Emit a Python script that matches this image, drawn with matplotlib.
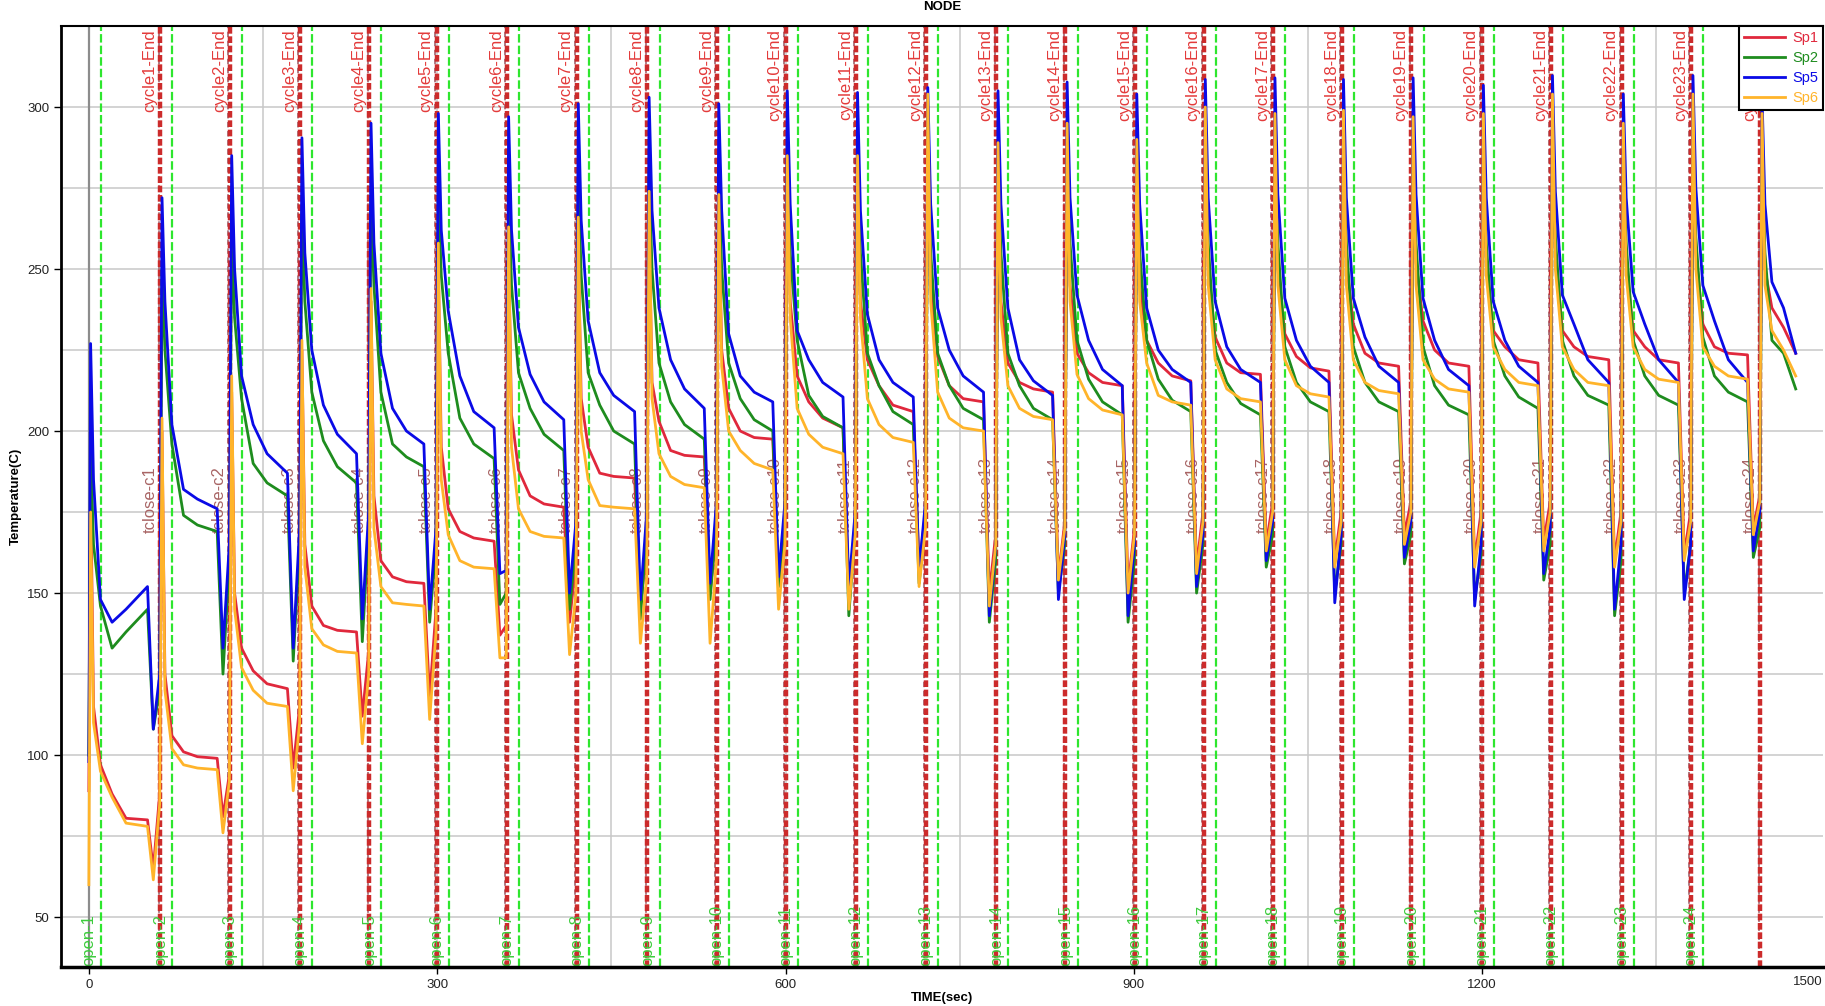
import numpy as np
import matplotlib.pyplot as plt
from matplotlib.ticker import MultipleLocator

plt.rcParams['font.family'] = ['Liberation Sans', 'DejaVu Sans']

# time (sec) at which each cycle ends
cycle_end = [61.5, 121.5, 182, 241.5, 299.5, 360, 420, 481, 541, 600, 660.5, 721,
             781.5, 841, 901, 960, 1020, 1079, 1139, 1199.5, 1259, 1320, 1380, 1439.5]
t_stop = 1470

series_names = ['Sp1', 'Sp2', 'Sp5', 'Sp6']
series_colors = ['#e0283c', '#1e8c1e', '#0a0ae6', '#ffb42a']
start_vals = [89, 100, 98, 60]

# per cycle: peak, 4s later, 10s later, 20s later, plateau before tclose, dip, value at cycle end
sp1 = [(185, 115, 97, 88, 80, 65, 88), (200, 125, 106, 101, 99, 81, 94),
       (212, 150, 133, 126, 120.5, 96, 115), (225, 165, 146, 140, 138, 112, 132),
       (240, 180, 160, 155, 153, 118, 145), (250, 195, 176, 169, 166, 137, 140),
       (255, 205, 188, 180, 176.5, 141, 160), (258, 210, 195, 187, 185.5, 146, 165),
       (266, 215, 203, 194, 192, 150, 170), (270, 225, 207, 200, 197.5, 152, 172),
       (283, 240, 217, 209, 201, 150, 172), (280, 240, 222, 214, 206, 158, 175),
       (300, 245, 223, 214, 209, 150, 168), (285, 240, 221, 215, 212, 155, 172),
       (292, 245, 224, 218, 214, 152, 170), (286, 245, 228, 221, 215.5, 158, 175),
       (296, 250, 229, 221, 217.5, 165, 178), (294, 250, 230, 223, 218.5, 160, 175),
       (295, 252, 233, 224, 220, 168, 178), (293, 252, 234, 225, 220, 160, 175),
       (294, 252, 231, 226, 221, 166, 178), (300, 255, 231, 226, 222, 160, 175),
       (292, 252, 231, 226, 221, 162, 175), (300, 255, 233, 226, 223.5, 170, 180)]
sp2 = [(195, 165, 146, 133, 145, 108, 120), (250, 225, 196, 174, 169, 125, 160),
       (260, 235, 210, 190, 180, 129, 165), (268, 240, 212, 197, 184, 135, 170),
       (272, 245, 212, 196, 189, 141, 165), (274, 248, 224, 204, 191.5, 146.5, 150),
       (275, 245, 218, 207, 194, 145, 165), (278, 248, 218, 208, 196, 142, 170),
       (280, 250, 221, 209, 197.5, 148, 172), (280, 250, 221, 210, 200, 152, 175),
       (282, 255, 228, 211, 201, 143, 170), (282, 255, 224, 214, 202, 153, 172),
       (284, 255, 224, 214, 203.5, 141, 160), (284, 255, 224, 214, 203.5, 150, 165),
       (285, 258, 228, 216, 205, 141, 160), (283, 255, 228, 216, 206, 150, 165),
       (285, 258, 225, 215, 205, 158, 168), (286, 258, 226, 215, 206, 150, 165),
       (285, 258, 226, 215, 206, 159, 168), (286, 258, 226, 214, 205, 148, 162),
       (284, 258, 228, 217, 207, 154, 165), (286, 260, 228, 217, 208, 143, 160),
       (283, 258, 228, 217, 208, 150, 165), (287, 260, 229, 217, 209, 161, 170)]
sp5 = [(227, 185, 148, 141, 152, 108, 125), (272, 240, 202, 182, 176, 133, 165),
       (285, 250, 217, 202, 187, 133, 170), (290.5, 255, 225, 208, 193, 142, 175),
       (295, 258, 224, 207, 196, 145, 170), (298, 262, 237, 217, 201, 156, 157),
       (297, 262, 232, 217.5, 203.5, 150, 172), (301, 265, 234, 218, 206, 148, 175),
       (303, 268, 238, 222, 207, 153, 178), (301, 268, 230, 217, 209, 155, 178),
       (305, 270, 231, 222, 210.5, 152, 175), (304.5, 268, 236, 222, 210.5, 157, 178),
       (306, 270, 238, 225, 212, 143, 165), (305, 270, 238, 222, 211, 148, 168),
       (307.7, 272, 242, 228, 214, 143, 165), (304, 270, 238, 225, 215, 152, 168),
       (308.5, 272, 240, 226, 215, 160, 172), (309, 273, 241, 228, 215, 147, 168),
       (308.5, 272, 241, 229, 215, 161, 172), (309, 273, 241, 228, 214, 146, 165),
       (306.7, 272, 240, 228, 215, 156, 170), (309.7, 274, 242, 233, 215, 145, 165),
       (304, 272, 243, 233, 215, 148, 165), (309.7, 275, 245, 234, 215, 163, 175)]
sp6 = [(175, 110, 95, 87, 78, 61.5, 85), (204, 120, 102, 97, 95.5, 76, 92),
       (217, 145, 127, 120, 115, 89, 110), (228, 158, 139, 134, 131.5, 103.5, 125),
       (244, 170, 152, 147, 146, 111, 138), (258, 185, 168, 160, 157.5, 130, 130),
       (263, 195, 176, 169, 167, 131, 150), (266, 200, 185, 177, 176, 134.5, 155),
       (274, 210, 193, 186, 182.5, 134.5, 160), (273, 220, 200, 194, 188, 145, 165),
       (285, 235, 207, 199, 193, 145, 168), (285, 235, 210, 202, 196.5, 152, 170),
       (304, 240, 212, 204, 200, 146, 165), (289, 235, 214, 207, 203.5, 154, 170),
       (295, 240, 217.5, 210, 205, 150, 168), (290, 240, 221, 211, 208, 156, 172),
       (300, 245, 222, 213, 209, 163, 175), (298, 245, 222, 214, 210.5, 158, 172),
       (299, 245, 222, 215, 211.5, 165, 175), (297, 245, 222, 216, 212, 158, 172),
       (298, 248, 226, 219, 214, 163, 175), (304, 250, 226, 219, 214, 158, 172),
       (295, 248, 226, 219, 215, 160, 172), (304, 250, 226, 220, 216, 168, 178)]

# value 32s into each cycle
sp1_mid = [80.5, 99.5, 122, 138.5, 153.5, 167, 177.5, 186, 192.5, 198, 204, 208,
           210, 213, 215, 217, 218, 219.5, 221, 221, 222, 223, 222, 224]
sp2_mid = [138, 171, 184, 189, 192, 196, 199, 200, 202, 203.5, 204.5, 206,
           207, 207, 209, 209.5, 208.5, 209, 209, 208, 210.5, 211, 211, 212]
sp5_mid = [145, 179, 193, 199, 200, 206, 209, 211, 213, 212, 215, 215,
           217, 215.5, 219, 219, 219, 220, 220, 219, 220, 222, 222, 222]
sp6_mid = [79, 96, 116, 132, 146.5, 158, 167.5, 176.5, 183.5, 190, 195, 198,
           201, 204.5, 206.5, 209, 210, 211.5, 212.5, 213, 215, 215, 216, 217]

# last, unfinished cycle: peak, +4s, +10s, +20s, value at t_stop
tails = [(296, 250, 238, 232, 224), (282, 255, 228, 224, 213),
         (303, 270, 246, 238, 224), (298, 245, 231, 225, 217)]


def build_curve(start_val, rows, mids, tail):
    seg_start = [0.0] + cycle_end[:-1]
    t = [0.0]
    v = [start_val]
    for s, e, row, mid in zip(seg_start, cycle_end, rows, mids):
        pk, v4, k10, q20, plat, dip, endv = row
        t += [s + 1.5, s + 4, s + 10, s + 20, s + 32, e - 11, e - 6, e - 0.5]
        v += [pk, v4, k10, q20, mid, plat, dip, endv]
    s = cycle_end[-1]
    t += [s + 1.5, s + 4, s + 10, s + 20, t_stop]
    v += list(tail)
    return np.array(t), np.array(v)


fig = plt.figure(figsize=(18.25, 10.06), dpi=100)
ax = fig.add_axes([61 / 1825, 1 - 967 / 1006, 1762 / 1825, 941 / 1006])
ax.set_xlim(-24, 1493.5)
ax.set_ylim(34.6, 325)

ax.xaxis.set_major_locator(MultipleLocator(300))
ax.xaxis.set_minor_locator(MultipleLocator(150))
ax.yaxis.set_major_locator(MultipleLocator(50))
ax.yaxis.set_minor_locator(MultipleLocator(25))
ax.set_axisbelow(True)
ax.grid(True, which='both', color='#c8c8c8', lw=1.1)
ax.tick_params(which='minor', length=0)
ax.tick_params(which='major', length=5, width=1, labelsize=9.5, labelcolor='#222222')
ax.axvline(0, color='#8c8c8c', lw=1.6, zorder=1)

for sp in ['left', 'bottom', 'top']:
    ax.spines[sp].set_color('black')
ax.spines['left'].set_linewidth(2)
ax.spines['bottom'].set_linewidth(2.5)
ax.spines['top'].set_linewidth(1.5)
ax.spines['right'].set_visible(False)

# event markers
seg_start = [0.0] + cycle_end[:-1]
for i, e in enumerate(cycle_end):
    n = i + 1
    ax.axvline(e - 1.5, color='#a8707a', lw=1.3, ls=(0, (3, 2)), zorder=2)
    ax.axvline(e, color='#cc2b2b', lw=3.2, ls=(0, (1.5, 0.6)), zorder=2)
    ax.text(e - 9, 324, f'cycle{n}-End', rotation=90, ha='center', va='top',
            color='#e33a3a', fontsize=12, zorder=2.5)
    ax.text(e - 9, 168.5, f'tclose-c{n}', rotation=90, ha='center', va='bottom',
            color='#a86464', fontsize=12, zorder=2.5)
for i, s in enumerate(seg_start):
    ax.axvline(s + 10.5, color='#2ee62e', lw=1.6, ls=(0, (3.8, 1.4)), zorder=2)
    ax.text(s, 35, f'open-{i + 1}', rotation=90, ha='center', va='bottom',
            color='#3ccc3c', fontsize=12, zorder=2.5)

rows_all = [sp1, sp2, sp5, sp6]
mids_all = [sp1_mid, sp2_mid, sp5_mid, sp6_mid]
for name, color, v0, rows, mids, tail in zip(series_names, series_colors, start_vals,
                                             rows_all, mids_all, tails):
    t, v = build_curve(v0, rows, mids, tail)
    ax.plot(t, v, color=color, lw=2.0, label=name, zorder=3)

leg = ax.legend(loc='upper right', borderaxespad=0, frameon=True, fancybox=False,
                edgecolor='black', framealpha=1, fontsize=10.5, handlelength=2.8,
                labelspacing=0.4, borderpad=0.35, handletextpad=0.5)
leg.get_frame().set_linewidth(1.5)
leg.set_zorder(5)
for txt, color in zip(leg.get_texts(), series_colors):
    txt.set_color(color)

# the edge tick label is pulled inside the picture, as in the source chart
fig.text(1823 / 1825, 1 - 976 / 1006, '1500', ha='right', va='top',
         fontsize=9.5, color='#222222')

ax.set_xlabel('TIME(sec)', fontweight='bold', fontsize=9.5, labelpad=1)
ax.set_ylabel('Temperature(C)', fontweight='bold', fontsize=9.5)
fig.text(942 / 1825, 1 - 10 / 1006, 'NODE', ha='center', va='baseline',
         fontweight='bold', fontsize=9.5)

fig.savefig('out.png', dpi=100)
